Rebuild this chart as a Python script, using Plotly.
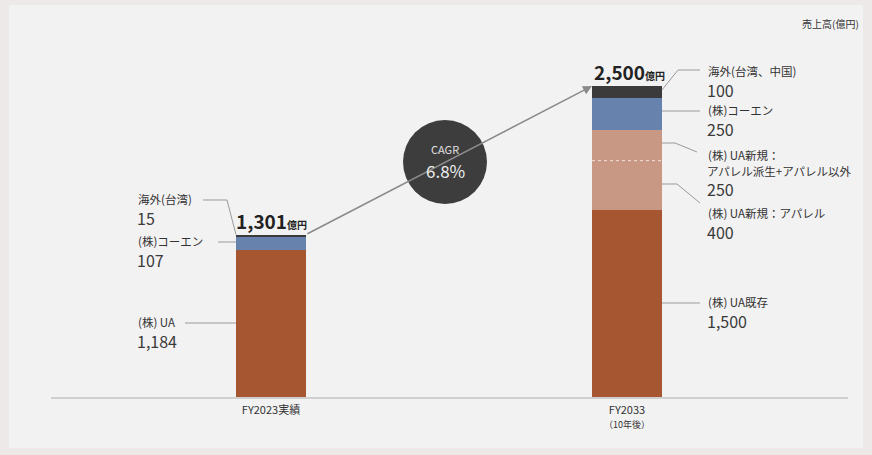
import plotly.graph_objects as go

W, H = 872, 455

categories = ["FY2023実績", "FY2033"]
tick_labels = ["FY2023実績", "FY2033<br><span style='font-size:9px'>（10年後）</span>"]

ua_existing = [1184, 1500]
ua_new_apparel = [0, 400]
ua_new_other = [0, 250]
coen = [107, 250]
overseas = [15, 100]
totals = [1301, 2500]

series_names = ["(株) UA既存", "(株) UA新規：アパレル", "(株) UA新規：アパレル派生+アパレル以外", "(株)コーエン", "海外"]
series_values = [ua_existing, ua_new_apparel, ua_new_other, coen, overseas]
series_colors = ["#a65731", "#c99884", "#c99884", "#6682ad", "#3b3b3b"]

cagr_text = "6.8%"
unit_text = "売上高(億円)"

FONT = "Noto Sans CJK JP"
TXT = "#333333"
LINE = "#9a9a9a"

# axis mapping (pixel layout)
X0_PX, X1_PX = 271, 627
Y0_PX = 397
PX_PER_UNIT = 311 / 2500
BAR_W = 70 / (X1_PX - X0_PX)
x_range = [-X0_PX / (X1_PX - X0_PX), (W - X0_PX) / (X1_PX - X0_PX)]
y_range = [-(H - Y0_PX) / PX_PER_UNIT, Y0_PX / PX_PER_UNIT]


def ypx(v):
    return Y0_PX - v * PX_PER_UNIT


def xpx(i):
    return X0_PX + i * (X1_PX - X0_PX)


fig = go.Figure()
for name, vals, col in zip(series_names, series_values, series_colors):
    fig.add_trace(go.Bar(x=[0, 1], y=vals, name=name, marker_color=col,
                         marker_line_width=0, width=BAR_W, showlegend=False,
                         hoverinfo="skip"))

stack_tops = [sum(v[i] for v in series_values) for i in range(2)]

shapes = []
annotations = []

# panel background
shapes.append(dict(type="rect", xref="paper", yref="paper", x0=9 / W, x1=863 / W,
                   y0=1 - 448 / H, y1=1 - 5 / H, fillcolor="#f2f2f2", line_width=0, layer="below"))

# baseline
shapes.append(dict(type="line", xref="paper", yref="paper", x0=51 / W, x1=848 / W,
                   y0=1 - (Y0_PX + 1) / H, y1=1 - (Y0_PX + 1) / H,
                   line=dict(color="#cfcfcf", width=2)))

# dotted separator between two light segments
sep = ua_existing[1] + ua_new_apparel[1]
shapes.append(dict(type="line", xref="x", yref="y", x0=1 - BAR_W / 2, x1=1 + BAR_W / 2,
                   y0=sep, y1=sep, line=dict(color="#f4e2d8", width=1, dash="dot")))


def path_line(pts):
    d = "M " + " L ".join(f"{x / W:.5f},{1 - y / H:.5f}" for x, y in pts)
    shapes.append(dict(type="path", xref="paper", yref="paper", path=d,
                       line=dict(color=LINE, width=1)))


def text(x, y, s, size, color=TXT, anchor="left"):
    annotations.append(dict(xref="paper", yref="paper", x=x / W, y=1 - y / H, xanchor=anchor,
                            yanchor="middle", showarrow=False, text=s,
                            font=dict(family=FONT, size=size, color=color)))


def label(x, y, name, value):
    text(x, y - 1, name, 11.5)
    text(x - 1, y + 18, value, 16, "#3a3a3a")


# FY2023 left labels
lx = 136
left_bar = xpx(0) - 35
label(lx, 200, "海外(台湾)", f"{overseas[0]:,}")
path_line([(203, 200), (227, 200), (left_bar, ypx(stack_tops[0]))])
label(lx, 242, "(株)コーエン", f"{coen[0]:,}")
path_line([(218, 242), (left_bar, 242)])
label(lx, 323, "(株) UA", f"{ua_existing[0]:,}")
path_line([(185, 323), (left_bar, 323)])

# FY2033 right labels
rx = 706
right_bar = xpx(1) + 35
label(rx, 72, "海外(台湾、中国)", f"{overseas[1]:,}")
path_line([(right_bar, ypx(stack_tops[1]) + 4), (678, 70), (700, 70)])
label(rx, 111, "(株)コーエン", f"{coen[1]:,}")
path_line([(right_bar, 111), (700, 111)])
text(rx, 155, "(株) UA新規：", 11.5)
text(rx - 1, 171, "アパレル派生+アパレル以外", 11.5)
text(rx - 1, 189, f"{ua_new_other[1]:,}", 16, "#3a3a3a")
path_line([(right_bar, 143), (675, 143), (697, 152)])
label(rx, 214, "(株) UA新規：アパレル", f"{ua_new_apparel[1]:,}")
path_line([(right_bar, 184), (677, 184), (700, 203)])
label(rx, 303, "(株) UA既存", f"{ua_existing[1]:,}")
path_line([(right_bar, 303), (700, 303)])

# totals
for i, xc in enumerate([271, 629]):
    text(xc, ypx(totals[i]) - 15, f"<b>{totals[i]:,}</b><b><span style='font-size:10px'>億円</span></b>",
         19, "#222222", anchor="center")

# arrow
hx, hy = xpx(1) - 35, ypx(stack_tops[1])
tx, ty = xpx(0) + 35, ypx(stack_tops[0])
annotations.append(dict(xref="paper", yref="paper", x=hx / W, y=1 - hy / H, ax=tx - hx, ay=ty - hy,
                        axref="pixel", ayref="pixel", showarrow=True, text="", arrowhead=2,
                        arrowsize=1.2, arrowwidth=1.5, arrowcolor="#8a8a8a"))

# CAGR circle
cx, cy, r = 445, 162, 42
shapes.append(dict(type="circle", xref="paper", yref="paper", x0=(cx - r) / W, x1=(cx + r) / W,
                   y0=1 - (cy + r) / H, y1=1 - (cy - r) / H, fillcolor="#3d3d3d", line_width=0,
                   layer="above"))
text(cx, 149, "CAGR", 11, "#e0e0e0", anchor="center")
text(cx, 170, cagr_text, 17, "#eeeeee", anchor="center")

# unit label
text(861, 23, unit_text, 10, TXT, anchor="right")

fig.update_layout(
    width=W, height=H, margin=dict(l=0, r=0, t=0, b=0),
    paper_bgcolor="#ede9e9", plot_bgcolor="rgba(0,0,0,0)",
    barmode="stack", bargap=0,
    shapes=shapes, annotations=annotations,
    xaxis=dict(range=x_range, tickmode="array", tickvals=[0, 1], ticktext=tick_labels,
               anchor="free", position=1 - Y0_PX / H, showgrid=False, zeroline=False,
               showline=False, ticks="", ticklabelstandoff=5,
               tickfont=dict(family=FONT, size=11, color=TXT)),
    yaxis=dict(range=y_range, visible=False, showgrid=False, zeroline=False),
)

fig.write_html("out.html")
